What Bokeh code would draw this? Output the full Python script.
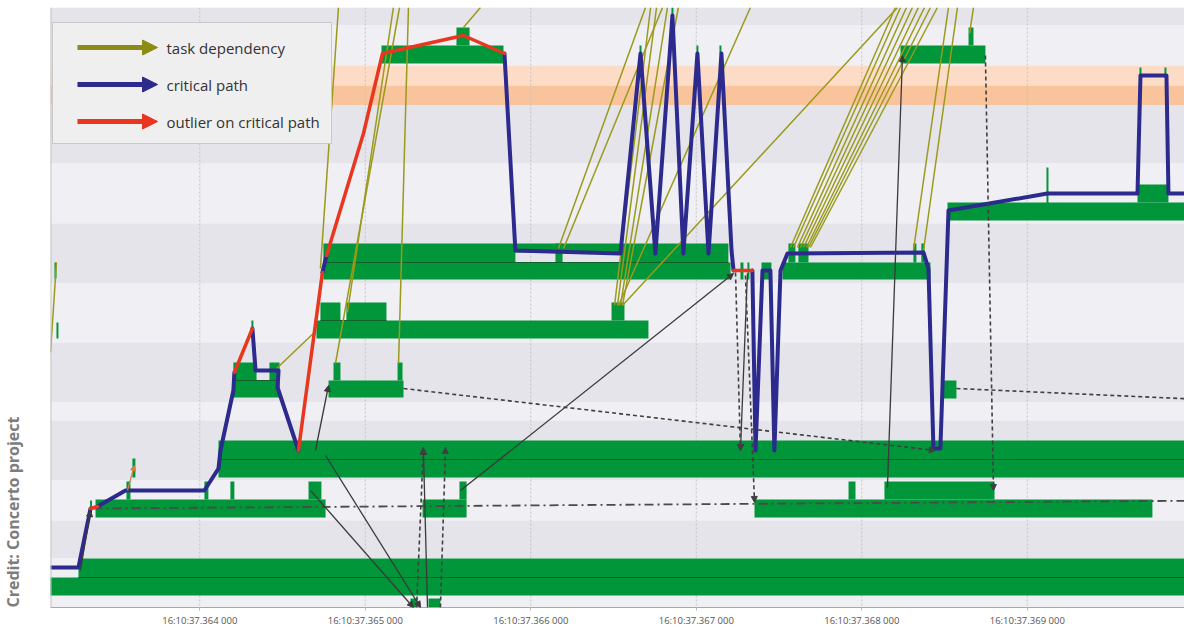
from bokeh.plotting import figure
from bokeh.models import (Range1d, FixedTicker, Span, Title, Arrow, NormalHead,
                          ColumnDataSource)
from bokeh.core.properties import value
from bokeh.embed import file_html
from bokeh.resources import INLINE

# ---------------- data ----------------
# time axis: milliseconds after 16:10:37.363 000
tick_ms = [1, 2, 3, 4, 5, 6]
tick_labels = ["16:10:37.364 000", "16:10:37.365 000", "16:10:37.366 000",
               "16:10:37.367 000", "16:10:37.368 000", "16:10:37.369 000"]
view_start, view_end = 0.098, 6.95

# thread lanes (track position, 0 = top, 600 = bottom)
lane_top = [0, 18, 58, 78, 98, 156, 216, 276, 335, 395, 413, 473, 513, 551]
lane_bottom = [18, 58, 78, 98, 156, 216, 276, 335, 395, 413, 473, 513, 551, 600]
lane_kind = ["even", "odd", "hot1", "hot2", "even", "odd", "even", "odd",
             "even", "odd", "even", "odd", "even", "odd"]

# tasks (start ms, end ms, top, bottom)
task_start = [0.267, 0.0, 2.273, 2.382, 0.370, 0.557, 1.028, 1.185, 1.657, 2.346, 2.569,
              4.352, 4.920, 5.137, 1.113, 1.113, 1.203, 1.421, 1.203, 1.778, 1.808, 2.195,
              5.494, 1.705, 1.729, 1.886, 3.488, 1.747, 1.747, 2.907, 3.542, 3.149,
              4.521, 4.557, 4.617, 5.312, 5.360, 4.267, 4.309, 4.394, 5.518, 6.666, 6.116,
              2.098, 2.551, 5.234, 5.645, 6.678, 6.829, 3.657, 3.850, 4.001, 4.140,
              1.312, 0.593, 0.122, 0.134, 0.337]
task_end = [7.2, 7.2, 2.316, 2.454, 1.760, 0.581, 1.052, 1.209, 1.735, 2.612, 2.612,
            6.756, 4.962, 5.802, 7.2, 7.2, 1.343, 1.482, 1.482, 2.231, 1.850, 2.225,
            5.572, 3.711, 1.850, 2.128, 3.566, 4.207, 2.907, 3.542, 4.194, 3.192,
            5.415, 4.599, 4.678, 5.330, 5.379, 4.285, 4.321, 4.454, 7.2, 6.853, 6.128,
            2.835, 2.630, 5.747, 5.675, 6.690, 6.841, 3.669, 3.862, 4.013, 4.152,
            1.324, 0.611, 0.134, 0.146, 0.349]
task_top = [551, 570, 591, 591, 492, 474, 474, 474, 474, 492, 474,
            492, 474, 474, 433, 452, 355, 355, 373, 373, 355, 355,
            373, 313, 295, 295, 295, 255, 236, 236, 236, 236,
            255, 236, 236, 236, 236, 255, 255, 255, 195, 177, 160,
            38, 20, 38, 20, 60, 60, 38, 0, 38, 38,
            313, 451, 255, 315, 493]
task_bottom = [570, 588, 600, 600, 510, 492, 492, 492, 492, 510, 492,
               510, 492, 492, 452, 470, 373, 373, 390, 390, 373, 373,
               391, 331, 313, 313, 313, 272, 255, 245, 255, 255,
               272, 255, 255, 255, 255, 272, 272, 272, 213, 195, 201,
               56, 38, 56, 38, 68, 68, 46, 8, 46, 46,
               321, 470, 271, 331, 501]

# row separators inside stacked tasks (start ms, end ms, position)
sep_start = [0.267, 1.113, 1.747, 1.203, 1.729]
sep_end = [7.2, 7.2, 4.194, 1.482, 2.128]
sep_pos = [570, 452, 255, 373, 313]

# critical path (ms, track position) and segments that are outliers
cp_t = [0.0, 0.267, 0.340, 0.382, 0.551, 1.028, 1.113, 1.125, 1.203, 1.209,
        1.318, 1.337, 1.476, 1.470, 1.596, 1.741, 1.766, 1.989, 2.104, 2.593,
        2.841, 2.907, 3.542, 3.663, 3.753, 3.856, 3.922, 4.007, 4.074, 4.152,
        4.213, 4.225, 4.339, 4.358, 4.400, 4.448, 4.472, 4.509, 4.551, 5.373,
        5.403, 5.433, 5.475, 5.524, 6.122, 6.666, 6.684, 6.841, 6.853, 7.2]
cp_y = [560, 560, 501, 499, 483, 483, 461, 443, 383, 365,
        321, 363, 363, 380, 443, 265, 248, 126, 46, 28,
        46, 243, 246, 46, 246, 8, 246, 46, 246, 46,
        243, 263, 263, 443, 263, 263, 443, 263, 246, 245,
        261, 441, 441, 203, 186, 186, 68, 68, 186, 186]
outlier_segments = [2, 9, 14, 16, 17, 18, 19, 31]

# task dependencies (polylines)
dep_t = [[0.098, 0.134], [1.464, 1.705], [1.838, 1.729], [2.170, 1.892], [2.207, 1.820],
         [2.261, 2.201], [2.696, 2.593], [3.693, 3.167], [3.796, 3.198],
         [3.724, 3.506], [3.760, 3.524], [3.826, 3.542], [3.892, 3.554],
         [4.327, 3.530], [5.216, 3.554],
         [5.203, 4.569], [5.234, 4.587], [5.270, 4.611], [5.306, 4.630], [5.342, 4.648],
         [5.379, 4.666], [5.415, 4.678], [5.457, 4.690],
         [5.524, 5.312], [5.578, 5.373], [5.675, 5.651]]
dep_y = [[345, 255], [361, 323], [0, 261], [0, 305], [0, 356],
         [0, 356], [0, 20], [0, 241], [0, 241],
         [0, 298], [0, 298], [0, 298], [0, 298],
         [0, 298], [0, 298],
         [0, 240], [0, 240], [0, 240], [0, 240], [0, 240],
         [0, 240], [0, 240], [0, 240],
         [0, 243], [0, 243], [0, 26]]

# synchronisation edges: solid (signal) and dashed (wait)
sig_t0 = [0.279, 1.699, 1.669, 1.760, 2.376, 2.575, 4.309, 5.155]
sig_y0 = [563, 443, 483, 448, 600, 483, 266, 480]
sig_t1 = [0.340, 1.778, 2.291, 2.334, 2.351, 4.225, 4.267, 5.246]
sig_y1 = [503, 378, 600, 600, 441, 266, 443, 48]
wait_t0 = [2.231, 5.572, 5.747, 4.237, 4.297, 2.310, 2.454]
wait_y0 = [381, 381, 48, 265, 268, 600, 600]
wait_t1 = [5.445, 7.2, 5.796, 4.267, 4.352, 2.351, 2.485]
wait_y1 = [443, 393, 483, 443, 495, 440, 440]
lock_t0, lock_y0, lock_t1, lock_y1 = [0.358], [501], [7.2], [493]

legend_labels = ["task dependency", "critical path", "outlier on critical path"]
credit_text = "Credit: Concerto project"

# ---------------- styles ----------------
GREEN = "#009639"
BLUE = "#2d2a8e"
RED = "#e8361f"
OLIVE = "#9a9a1c"
lane_colors = {"even": "#e4e4ea", "odd": "#efeff4", "hot1": "#fcdcc6", "hot2": "#f9c39b"}

p = figure(width=1184, height=630, x_range=Range1d(view_start, view_end),
           y_range=Range1d(600, 0), output_backend="svg", toolbar_location=None,
           min_border_left=50, min_border_right=0, min_border_top=7, min_border_bottom=23,
           background_fill_color="white", border_fill_color="white")
p.outline_line_color = None
p.xgrid.visible = False
p.ygrid.visible = False
p.yaxis.visible = False

# lanes
p.quad(left=-1, right=8, top=lane_top, bottom=lane_bottom,
       fill_color=[lane_colors[k] for k in lane_kind], line_color=None)
# grid lines at ticks
p.segment(x0=tick_ms, x1=tick_ms, y0=[0] * len(tick_ms), y1=[600] * len(tick_ms),
          line_color="#c2c2c8", line_dash="2 2", line_width=1)
# tasks
p.quad(left=task_start, right=task_end, top=task_top, bottom=task_bottom,
       fill_color=GREEN, line_color=None)
p.segment(x0=sep_start, x1=sep_end, y0=sep_pos, y1=sep_pos, line_color="#14602c", line_width=1)

# dependencies
p.multi_line(xs=dep_t, ys=dep_y, line_color=OLIVE, line_width=1.5)

# critical path split into normal and outlier runs
runs = {"n": ([], []), "o": ([], [])}
cur_kind, cur_t, cur_y = None, [], []
for i in range(len(cp_t) - 1):
    k = "o" if i in outlier_segments else "n"
    if k != cur_kind:
        if cur_kind is not None:
            runs[cur_kind][0].append(cur_t)
            runs[cur_kind][1].append(cur_y)
        cur_kind, cur_t, cur_y = k, [cp_t[i]], [cp_y[i]]
    cur_t.append(cp_t[i + 1])
    cur_y.append(cp_y[i + 1])
runs[cur_kind][0].append(cur_t)
runs[cur_kind][1].append(cur_y)

# dash-dot lock edge below the path
p.segment(x0=lock_t0, y0=lock_y0, x1=lock_t1, y1=lock_y1, line_color="#4a4a4a",
          line_width=1.8, line_dash="9 4 2 4")

p.multi_line(xs=runs["n"][0], ys=runs["n"][1], line_color=BLUE, line_width=4,
             line_join="round", line_cap="round")
p.multi_line(xs=runs["o"][0], ys=runs["o"][1], line_color=RED, line_width=3.5,
             line_join="round", line_cap="round")

# sync edges with small arrow heads
sig_src = ColumnDataSource(dict(x0=sig_t0, y0=sig_y0, x1=sig_t1, y1=sig_y1))
p.add_layout(Arrow(source=sig_src, x_start="x0", y_start="y0", x_end="x1", y_end="y1",
                   line_color="#3a3a3a", line_width=1.3,
                   end=NormalHead(size=6, fill_color="#3a3a3a", line_color="#3a3a3a")))
wait_src = ColumnDataSource(dict(x0=wait_t0, y0=wait_y0, x1=wait_t1, y1=wait_y1))
p.add_layout(Arrow(source=wait_src, x_start="x0", y_start="y0", x_end="x1", y_end="y1",
                   line_color="#404040", line_width=1.6, line_dash="4 3",
                   end=NormalHead(size=6, fill_color="#404040", line_color="#404040")))
p.add_layout(Arrow(end=NormalHead(size=5, fill_color="#e07a3a", line_color="#e07a3a"),
                   x_start=0.563, y_start=483, x_end=0.605, y_end=458,
                   line_color="#e07a3a", line_width=1.2))

# legend (drawn inside the plot area, top-left)
p.quad(left=[0.110], right=[1.796], top=[15], bottom=[136],
       fill_color="#efefef", line_color="#c9c9c9", line_width=1)
for yy, col in zip([40, 77, 114], ["#8c8c14", BLUE, RED]):
    p.add_layout(Arrow(end=NormalHead(size=15, fill_color=col, line_color=col, line_width=1),
                       x_start=0.261, y_start=yy, x_end=0.745, y_end=yy,
                       line_color=col, line_width=5))
p.text(x=[0.799] * 3, y=[40, 77, 114], text=legend_labels, text_font=value("Open Sans"),
       text_font_size="15px", text_baseline="middle", text_align="left", text_color="#333333")

# left border
p.add_layout(Span(location=view_start, dimension="height", line_color="#c6c6c6", line_width=2))

# axis
p.xaxis.ticker = FixedTicker(ticks=tick_ms)
p.xaxis.major_label_overrides = {t: s for t, s in zip(tick_ms, tick_labels)}
p.xaxis.axis_line_color = "#a8a8a8"
p.xaxis.major_tick_line_color = "#b8b8b8"
p.xaxis.major_tick_out = 3
p.xaxis.major_tick_in = 0
p.xaxis.minor_tick_line_color = None
p.xaxis.major_label_text_font = "Open Sans"
p.xaxis.major_label_text_font_size = "9.5px"
p.xaxis.major_label_text_color = "#555555"
p.xaxis.major_label_standoff = 3

# credit, written vertically in the far left margin (a blank spacer keeps it off the frame)
spacer = Title(text=" ", text_font_size="10px", standoff=12)
p.add_layout(spacer, "left")
credit = Title(text=credit_text, align="left", vertical_align="top", standoff=0,
               text_font="Open Sans", text_font_size="16px", text_font_style="bold",
               text_color="#7d7d7d")
p.add_layout(credit, "left")

open("out.html", "w").write(file_html(p, INLINE))
